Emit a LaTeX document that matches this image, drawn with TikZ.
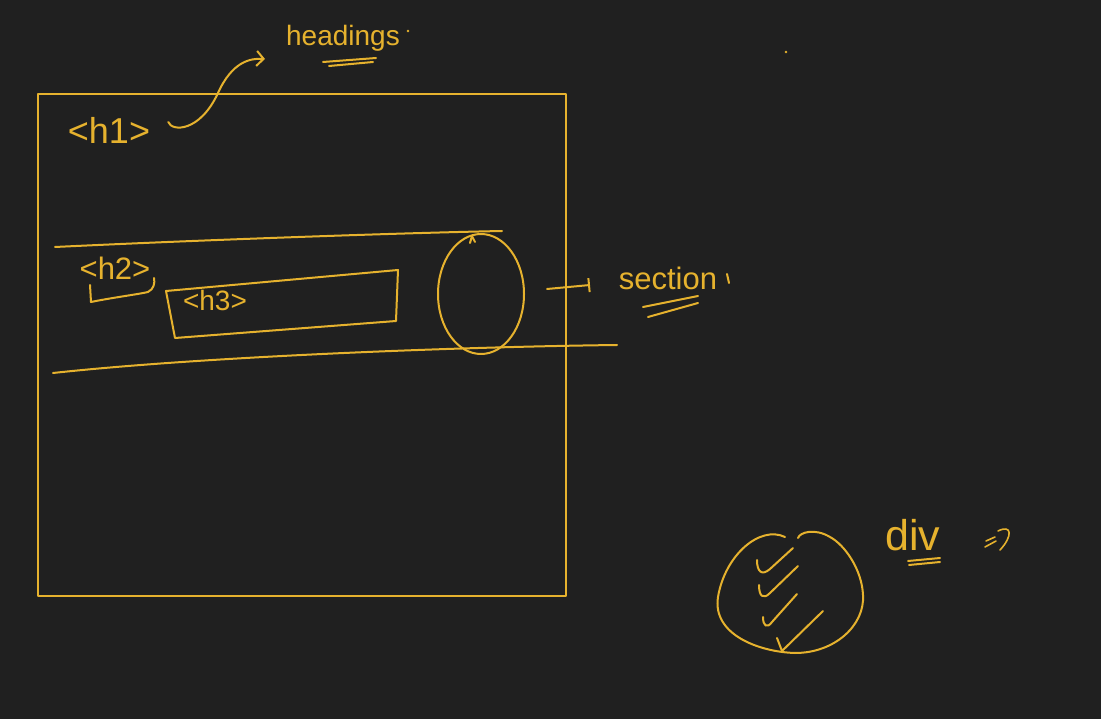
\documentclass[tikz,border=0pt]{standalone}
\usepackage{fontspec}
\setmainfont{Liberation Sans}
\usetikzlibrary{arrows.meta, positioning, shapes.geometric}
\definecolor{Board}{RGB}{32, 32, 32}
\definecolor{Chalk}{RGB}{230, 178, 46}

\begin{document}
\begin{tikzpicture}[
    x=1pt, y=-1pt,
    ink/.style={draw=Chalk, line width=2pt, line cap=round, line join=round},
    thin ink/.style={ink, line width=1.6pt},
    scrawl/.style={text=Chalk, inner sep=0pt, anchor=center}
]
\fill[Board] (0,0) rectangle (1101,719);
\useasboundingbox (0,0) rectangle (1101,719);

\node[ink, minimum width=528pt, minimum height=502pt, inner sep=0pt] (page) at (302,345) {};

\node[scrawl, font=\fontsize{36}{36}\selectfont] (h1) at (109,130) {\textless h1\textgreater};
\node[scrawl, font=\fontsize{28}{28}\selectfont] (headings) at (343,38) {headings};
\node[scrawl, font=\fontsize{31}{31}\selectfont] (h2) at (115,268) {\textless h2\textgreater};
\node[scrawl, font=\fontsize{28}{28}\selectfont] (h3) at (215,300) {\textless h3\textgreater};
\node[scrawl, font=\fontsize{31}{31}\selectfont] (section) at (668,278) {section};
\node[scrawl, font=\fontsize{43}{43}\selectfont] (divlabel) at (913,535) {div};
\node[ink, ellipse, minimum width=86pt, minimum height=120pt, inner sep=0pt] (sec) at (481,294) {};

\coordinate (hd tip) at (265,59);
\coordinate (sec tail) at (547,289);
\coordinate (sec tip) at (590,285);

\draw[ink, -{Straight Barb[length=7pt, width=15pt]}] ([xshift=18pt,yshift=8pt]h1.east)
    .. controls (172,132) and (200,132) .. (218,93)
    .. controls (232,62) and (250,58) .. (hd tip);
\draw[ink] (323,62) -- (376,58);
\draw[ink] (329,66) -- (373,62);
\fill[Chalk] (408,31) circle (1.3pt);
\fill[Chalk] (786,52) circle (1.3pt);

\draw[ink] (55,247) .. controls (200,240) and (400,233) .. (502,231);
\draw[ink] (53,373) .. controls (200,357) and (450,347) .. (617,345);

\draw[ink] (90,285) -- (91,302) .. controls (110,298) and (140,294) .. (148,292)
    .. controls (154,289) and (155,283) .. (154,278);
\draw[ink] (166,291) -- (398,270) -- (396,321) -- (175,338) -- cycle;

\draw[ink] (470,243) -- (472,236) -- (475,242);
\draw[ink, -{Bar[width=14pt]}] (sec tail) -- (sec tip);
\draw[ink] (643,307) -- (698,296);
\draw[ink] (648,317) -- (698,303);
\draw[ink] (727,274) -- (729,283);

\draw[ink] (785,537) .. controls (760,525) and (725,555) .. (718,597)
    .. controls (712,635) and (760,652) .. (795,653)
    .. controls (835,653) and (865,625) .. (863,595)
    .. controls (862,570) and (845,545) .. (830,537)
    .. controls (815,528) and (800,532) .. (798,538);
\draw[ink] (757,560) .. controls (757,572) and (762,576) .. (770,569) -- (793,548);
\draw[ink] (759,585) .. controls (759,596) and (763,600) .. (770,593) -- (798,566);
\draw[ink] (763,617) .. controls (763,626) and (767,629) .. (772,622) -- (797,594);
\draw[ink] (777,638) -- (782,651) -- (823,611);

\draw[ink] (908,561) -- (940,558);
\draw[ink] (909,565) -- (940,562);
\draw[thin ink] (985,547) -- (996,541);
\draw[thin ink] (986,541) -- (995,537);
\draw[thin ink] (998,531) .. controls (1012,524) and (1013,536) .. (1000,550);
\end{tikzpicture}
\end{document}
